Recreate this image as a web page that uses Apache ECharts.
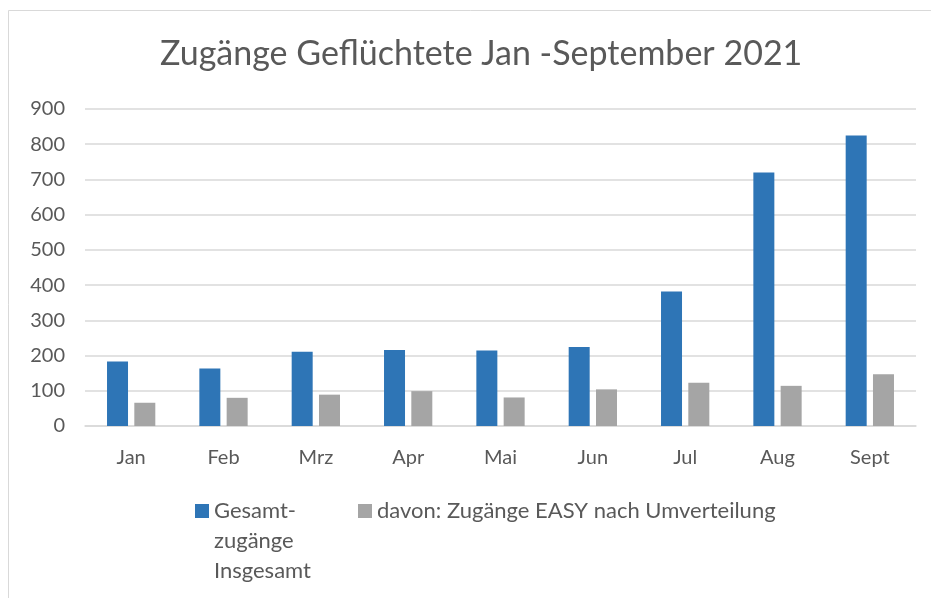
<!DOCTYPE html>
<html>
<head>
<meta charset="utf-8">
<script src="https://cdn.jsdelivr.net/npm/echarts@6/dist/echarts.min.js"></script>
<style>
  html, body { margin: 0; padding: 0; background: #fff; }
  #container { width: 931px; height: 598px; }
</style>
</head>
<body>
<div id="container"></div>
<script>
var months = ['Jan', 'Feb', 'Mrz', 'Apr', 'Mai', 'Jun', 'Jul', 'Aug', 'Sept'];
var gesamt = [183, 163, 211, 216, 214, 224, 382, 720, 825];
var easy = [66, 80, 89, 99, 81, 104, 123, 114, 147];
var nameGesamt = 'Gesamt-zugänge Insgesamt';
var nameEasy = 'davon: Zugänge EASY nach Umverteilung';

var txtColor = '#595959';
var font = 'Lato';
var legendText = { fontFamily: font, fontSize: 22, color: txtColor, lineHeight: 30 };

var myChart = echarts.init(document.getElementById('container'));
var option = {
    backgroundColor: '#fff',
    textStyle: { fontFamily: font },
    title: {
        text: 'Zugänge Geflüchtete Jan -September 2021',
        left: 155,
        top: 32,
        textStyle: { fontFamily: font, fontSize: 34, fontWeight: 'normal', color: txtColor }
    },
    graphic: [{
        type: 'rect',
        shape: { x: 8.5, y: 10.5, width: 940, height: 600 },
        style: { fill: 'none', stroke: '#d9d9d9', lineWidth: 1 },
        silent: true
    }],
    legend: [{
        left: 190,
        top: 491,
        itemWidth: 14,
        itemHeight: 74,
        // square at the top so it lines up with the first of the three lines
        icon: 'path://M0,0H14V14H0Z M0,74L0.01,74',
        textStyle: legendText,
        data: [nameGesamt],
        formatter: function () {
            return 'Gesamt-\nzugänge\nInsgesamt';
        }
    }, {
        left: 353,
        top: 491,
        itemWidth: 14,
        itemHeight: 14,
        icon: 'rect',
        textStyle: legendText,
        data: [nameEasy]
    }],
    grid: {
        left: 85,
        right: 15,
        top: 109,
        bottom: 172
    },
    xAxis: {
        type: 'category',
        data: months,
        axisTick: { show: false },
        axisLine: { lineStyle: { color: '#d9d9d9', width: 1.5 } },
        axisLabel: { fontFamily: font, fontSize: 20, color: txtColor, margin: 22 }
    },
    yAxis: {
        type: 'value',
        min: 0,
        max: 900,
        interval: 100,
        axisLine: { show: false },
        axisTick: { show: false },
        splitLine: { lineStyle: { color: '#d9d9d9', width: 1.5 } },
        axisLabel: { fontFamily: font, fontSize: 20, color: txtColor, margin: 20 }
    },
    series: [{
        name: nameGesamt,
        type: 'bar',
        data: gesamt,
        barWidth: 21,
        barGap: '30%',
        itemStyle: { color: '#2e75b6' }
    }, {
        name: nameEasy,
        type: 'bar',
        data: easy,
        barWidth: 21,
        barGap: '30%',
        itemStyle: { color: '#a5a5a5' }
    }]
};
myChart.setOption(option);
</script>
</body>
</html>
